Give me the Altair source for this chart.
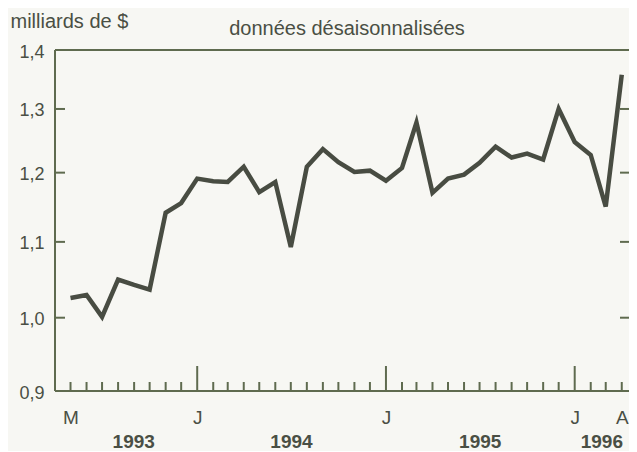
import altair as alt
import pandas as pd

# ---- data (monthly, May 1993 - April 1996) ----
first_month = "1993-05-01"
values = [
    1.025, 1.029, 1.001, 1.049, 1.042, 1.036, 1.141, 1.155,          # 1993 May-Dec
    1.191, 1.187, 1.186, 1.209, 1.171, 1.186, 1.093, 1.209,          # 1994 Jan-Aug
    1.236, 1.216, 1.201, 1.203,                                      # 1994 Sep-Dec
    1.188, 1.207, 1.278, 1.170, 1.191, 1.197, 1.215, 1.240,          # 1995 Jan-Aug
    1.223, 1.229, 1.220, 1.300,                                      # 1995 Sep-Dec
    1.247, 1.227, 1.150, 1.357,                                      # 1996 Jan-Apr
]
month_label_dates = ["1993-05-01", "1994-01-01", "1995-01-01", "1996-01-01", "1996-04-01"]
x_domain = ["1993-04-01", "1996-04-15"]
y_tick_values = [1.0, 1.1, 1.2, 1.3]
y_label_values = [0.912, 1.0, 1.1, 1.2, 1.3, 1.4]
y_domain = [0.912, 1.4]
unit_title = "milliards de $"
chart_title = ["données désaisonnalisées"]

dates = pd.date_range(first_month, periods=len(values), freq="MS").strftime("%Y-%m-%dT00:00:00")
df = pd.DataFrame({"date": list(dates), "value": values})
yticks_df = pd.DataFrame({"v": y_tick_values})
title_df = pd.DataFrame({"t": chart_title})

W, H = 574, 341
AXIS_COL = "#5f6b4f"
TEXT_COL = "#4a4f44"
LINE_COL = "#484c42"
FONT = "Liberation Sans"


def dt(s):
    y, m, d = [int(p) for p in s.split("-")]
    return alt.DateTime(year=y, month=m, date=d)


x_scale = alt.Scale(domain=[dt(s) for s in x_domain])
y_scale = alt.Scale(type="log", domain=y_domain, nice=False)

x_axis = alt.Axis(
    values=[dt(s) for s in month_label_dates],
    labelExpr="slice(timeFormat(datum.value, '%b'), 0, 1)",
    ticks=False, domain=False, grid=False, title=None,
    labelPadding=17, labelFontSize=19, labelFont=FONT, labelColor=TEXT_COL,
    labelFlush=False, labelOverlap=False,
)
y_axis = alt.Axis(
    values=y_label_values,
    labelExpr="datum.value < 0.95 ? '0,9' : replace(format(datum.value, '.1f'), '.', ',')",
    ticks=False, domain=False, grid=False,
    title=unit_title, titleAngle=0, titleAlign="left", titleBaseline="alphabetic",
    titleX=-45, titleY=-23, titleFont=FONT, titleFontSize=20, titleFontWeight="normal",
    titleColor=TEXT_COL,
    labelPadding=11, labelFontSize=18, labelFont=FONT, labelColor=TEXT_COL,
    labelOffset=2, labelFlush=False, labelOverlap=False,
)

base = alt.Chart(df)
X = alt.X("date:T", scale=x_scale, axis=x_axis)

line = base.mark_line(color=LINE_COL, strokeWidth=4.5, strokeJoin="miter").encode(
    x=X,
    y=alt.Y("value:Q", scale=y_scale, axis=y_axis),
)

# frame: top, left and bottom edges (right edge lies beyond the picture)
frame_top = alt.Chart(title_df).mark_rule(color=AXIS_COL, strokeWidth=2).encode(
    x=alt.value(0), x2=alt.value(W), y=alt.value(0))
frame_left = alt.Chart(title_df).mark_rule(color=AXIS_COL, strokeWidth=2).encode(
    x=alt.value(0), y=alt.value(0), y2=alt.value(H))
frame_bottom = alt.Chart(title_df).mark_rule(color=AXIS_COL, strokeWidth=2).encode(
    x=alt.value(0), x2=alt.value(W), y=alt.value(H))

# monthly ticks on the bottom axis (pointing inward), taller for January
small_ticks = base.transform_filter("month(datum.date) != 0").mark_rule(
    color=AXIS_COL, strokeWidth=2
).encode(x=X, y=alt.value(H), y2=alt.value(H - 9))
jan_ticks = base.transform_filter("month(datum.date) == 0").mark_rule(
    color=AXIS_COL, strokeWidth=2
).encode(x=X, y=alt.value(H), y2=alt.value(H - 25))

# y ticks on left and right (pointing inward)
YT = alt.Y("v:Q", scale=y_scale, axis=y_axis)
left_ticks = alt.Chart(yticks_df).mark_rule(color=AXIS_COL, strokeWidth=2).encode(
    y=YT, x=alt.value(0), x2=alt.value(10),
)
right_ticks = alt.Chart(yticks_df).mark_rule(color=AXIS_COL, strokeWidth=2).encode(
    y=YT, x=alt.value(W - 9), x2=alt.value(W),
)

# year labels centred under the span of each year's months (clipped at axis end)
years = base.transform_calculate(
    t="time(toDate(datum.date))", yr="year(toDate(datum.date))"
).transform_aggregate(
    tmin="min(t)", tmax="max(t)", groupby=["yr"]
).transform_calculate(
    tend="min(datum.tmax + 30.5 * 86400000, time(datetime(1996, 3, 15)))"
).transform_calculate(
    mid="(datum.tmin + datum.tend) / 2"
).mark_text(
    font=FONT, fontSize=19, fontWeight="bold", color=TEXT_COL, baseline="alphabetic"
).encode(
    x=alt.X("mid:T", scale=x_scale, axis=x_axis),
    y=alt.value(H + 57),
    text="yr:N",
)

title = alt.Chart(title_df).mark_text(
    font=FONT, fontSize=20, color=TEXT_COL, baseline="alphabetic", align="center"
).encode(text="t:N", x=alt.value(292), y=alt.value(-15))

chart = alt.layer(
    line, frame_top, frame_left, frame_bottom, small_ticks, jan_ticks,
    left_ticks, right_ticks, years, title
).properties(
    width=W, height=H,
    padding={"left": 47, "top": 42, "right": 0, "bottom": 60},
    autosize=alt.AutoSizeParams(type="none"),
).configure_view(
    stroke=None
).configure(
    background="#f7f7f3"
)

chart.save("out.html", embed_options={"renderer": "svg", "actions": False})
